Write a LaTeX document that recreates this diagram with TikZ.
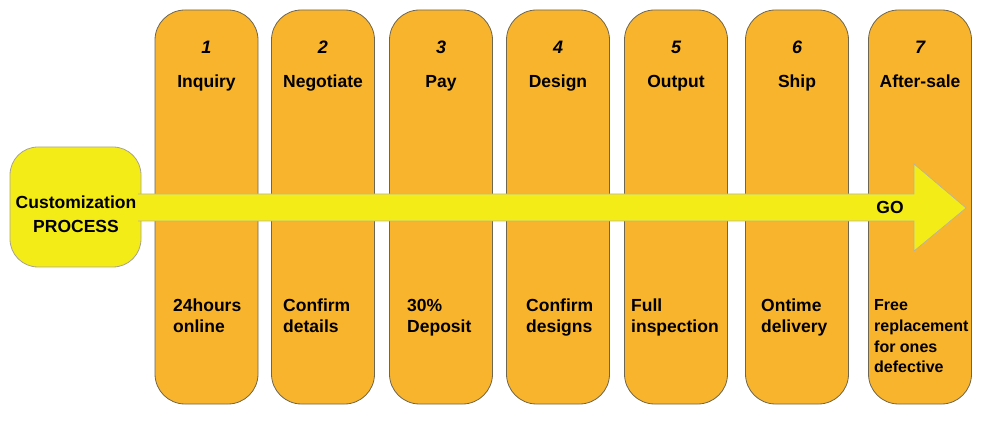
\documentclass[tikz,border=0pt]{standalone}
\usepackage{fontspec}
\setmainfont{Liberation Sans}
\definecolor{steporange}{HTML}{F8B42C}
\definecolor{goyellow}{HTML}{F4EC16}
\definecolor{edgegray}{HTML}{6E6650}
\tikzset{
  stepcol/.style={draw=edgegray, line width=0.8pt, fill=steporange, rounded corners=30pt,
    minimum width=103pt, minimum height=394pt, inner sep=0pt},
  stepnum/.style={anchor=base, font=\fontsize{18}{21}\selectfont\bfseries\itshape},
  steptitle/.style={anchor=base, font=\fontsize{17.5}{21}\selectfont\bfseries},
  stepnote/.style={anchor=north west, align=left, inner sep=0pt, font=\fontsize{17.5}{21}\selectfont\bfseries},
}
\begin{document}
\begin{tikzpicture}[x=1pt,y=-1pt]
\useasboundingbox (0,0) rectangle (995,427);

\node[stepcol] (inquiry) at (206.5,207) {};
\node[stepcol] (negotiate) at (323,207) {};
\node[stepcol] (pay) at (441,207) {};
\node[stepcol] (design) at (558,207) {};
\node[stepcol] (output) at (676,207) {};
\node[stepcol] (ship) at (797,207) {};
\node[stepcol] (aftersale) at (920,207) {};

\node[stepnum] (n1) at (inquiry |- 0,53.5) {1};
\node[stepnum] (n2) at (negotiate |- 0,53.5) {2};
\node[stepnum] (n3) at (pay |- 0,53.5) {3};
\node[stepnum] (n4) at (design |- 0,53.5) {4};
\node[stepnum] (n5) at (output |- 0,53.5) {5};
\node[stepnum] (n6) at (ship |- 0,53.5) {6};
\node[stepnum] (n7) at (aftersale |- 0,53.5) {7};

\node[steptitle] (t1) at (inquiry |- 0,87.5) {Inquiry};
\node[steptitle] (t2) at (negotiate |- 0,87.5) {Negotiate};
\node[steptitle] (t3) at (pay |- 0,87.5) {Pay};
\node[steptitle] (t4) at (design |- 0,87.5) {Design};
\node[steptitle] (t5) at (output |- 0,87.5) {Output};
\node[steptitle] (t6) at (ship |- 0,87.5) {Ship};
\node[steptitle] (t7) at (aftersale |- 0,87.5) {After-sale};

\node[stepnote] (d1) at (173,299) {24hours\\online};
\node[stepnote] (d2) at (283,299) {Confirm\\details};
\node[stepnote] (d3) at (407,299) {30\%\\Deposit};
\node[stepnote] (d4) at (526,299) {Confirm\\designs};
\node[stepnote] (d5) at (631,299) {Full\\inspection};
\node[stepnote] (d6) at (761,299) {Ontime\\delivery};
\node[stepnote,font=\fontsize{16}{20.7}\selectfont\bfseries] (d7) at (874,299.5)
  {Free\\replacement\\for ones\\defective};

% start box and the arrow
\node[draw=edgegray!60, line width=0.8pt, fill=goyellow, rounded corners=28pt,
  minimum width=131pt, minimum height=120pt] (procbox) at (75.5,207) {};
\draw[draw=edgegray!50, line width=0.6pt, fill=goyellow]
  (138,194) -- (914,194) -- (914,164) -- (966,208) -- (914,251) -- (914,221) -- (138,221);
\node[anchor=north, align=center, inner sep=0pt, font=\fontsize{17.5}{24.5}\selectfont\bfseries]
  (proctext) at (76,195.5) {Customization\\PROCESS};
\node[font=\fontsize{17.5}{21}\selectfont\bfseries] (go) at (890,207) {GO};
\end{tikzpicture}
\end{document}
